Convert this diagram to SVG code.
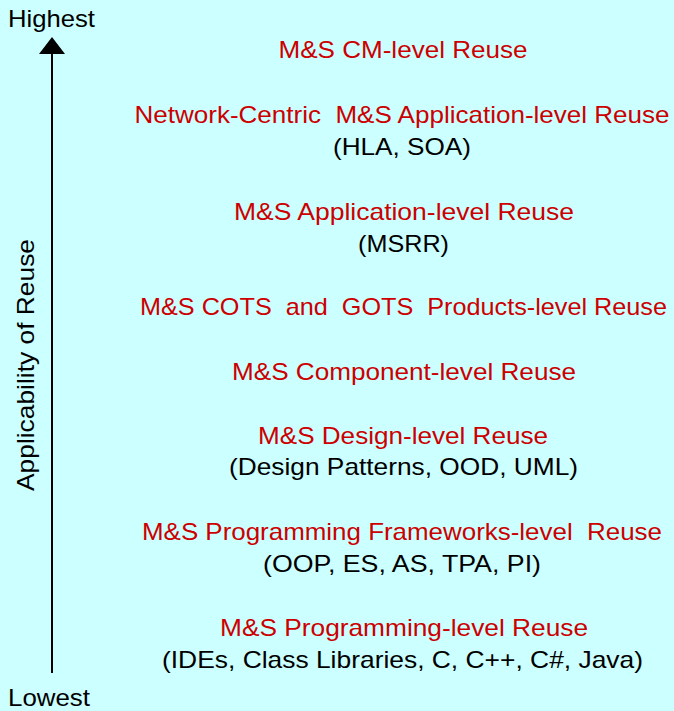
<svg xmlns="http://www.w3.org/2000/svg" width="674" height="711" viewBox="0 0 674 711">
<style>
text{font-family:"Liberation Sans",Arial,sans-serif;font-size:24px;}
.r{fill:#CC0000;text-anchor:middle;}
.k{fill:#000000;text-anchor:middle;}
.a{fill:#000000;}
</style>
<rect x="0" y="0" width="674" height="711" fill="#CCFFFF"/>
<g id="axis">
<line x1="52" y1="673" x2="52" y2="52" stroke="#000" stroke-width="2"/>
<polygon points="52,37 39,54 65,54" fill="#000"/>
<text class="a" x="8" y="27" textLength="87" lengthAdjust="spacingAndGlyphs">Highest</text>
<text class="a" x="8" y="706" textLength="82" lengthAdjust="spacingAndGlyphs">Lowest</text>
<text class="a" transform="translate(34,365) rotate(-90)" text-anchor="middle" textLength="252" lengthAdjust="spacingAndGlyphs">Applicability of Reuse</text>
</g>
<g id="level-cm"><text class="r" x="403" y="58" textLength="249" lengthAdjust="spacingAndGlyphs">M&amp;S CM-level Reuse</text></g>
<g id="level-network"><text class="r" x="402" y="123" textLength="535" lengthAdjust="spacingAndGlyphs" xml:space="preserve">Network-Centric  M&amp;S Application-level Reuse</text><text class="k" x="402" y="155" textLength="138" lengthAdjust="spacingAndGlyphs">(HLA, SOA)</text></g>
<g id="level-application"><text class="r" x="404" y="220" textLength="340" lengthAdjust="spacingAndGlyphs">M&amp;S Application-level Reuse</text><text class="k" x="403.5" y="252" textLength="91" lengthAdjust="spacingAndGlyphs">(MSRR)</text></g>
<g id="level-cots"><text class="r" x="403.5" y="315" textLength="527" lengthAdjust="spacingAndGlyphs" xml:space="preserve">M&amp;S COTS  and  GOTS  Products-level Reuse</text></g>
<g id="level-component"><text class="r" x="404" y="380" textLength="344" lengthAdjust="spacingAndGlyphs">M&amp;S Component-level Reuse</text></g>
<g id="level-design"><text class="r" x="403" y="444" textLength="290" lengthAdjust="spacingAndGlyphs">M&amp;S Design-level Reuse</text><text class="k" x="403.5" y="475" textLength="349" lengthAdjust="spacingAndGlyphs">(Design Patterns, OOD, UML)</text></g>
<g id="level-frameworks"><text class="r" x="402" y="540" textLength="520" lengthAdjust="spacingAndGlyphs" xml:space="preserve">M&amp;S Programming Frameworks-level  Reuse</text><text class="k" x="402" y="572" textLength="278" lengthAdjust="spacingAndGlyphs">(OOP, ES, AS, TPA, PI)</text></g>
<g id="level-programming"><text class="r" x="404" y="636" textLength="368" lengthAdjust="spacingAndGlyphs">M&amp;S Programming-level Reuse</text><text class="k" x="402.5" y="668" textLength="481" lengthAdjust="spacingAndGlyphs">(IDEs, Class Libraries, C, C++, C#, Java)</text></g>
<g id="connectors"></g>
</svg>
